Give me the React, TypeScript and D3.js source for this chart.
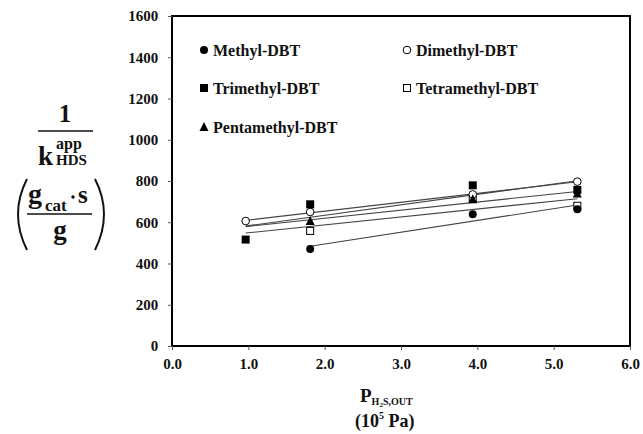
import React, { useEffect, useRef } from 'react';
import * as d3 from 'd3';

// H2S partial pressure at the outlet (10^5 Pa)
const pressures = [0.965, 1.81, 3.94, 5.31];

const seriesNames = ['Methyl-DBT', 'Dimethyl-DBT', 'Trimethyl-DBT', 'Tetramethyl-DBT', 'Pentamethyl-DBT'];
const seriesSymbols = ['circle', 'circleOpen', 'square', 'squareOpen', 'triangle'];

// 1/k values (gcat·s/g); null = not measured at that pressure
const methylValues = [null, 470, 639, 663];
const dimethylValues = [606, 650, 735, 797];
const trimethylValues = [516, 687, 779, 757];
const tetramethylValues = [null, 558, 718, 680];
const pentamethylValues = [null, 606, 711, 740];

// where each trend line starts on the x axis
const fitStart = [1.81, 0.965, 0.965, 0.965, 0.965];

const xTicks = [0, 1, 2, 3, 4, 5, 6];
const yTicks = [0, 200, 400, 600, 800, 1000, 1200, 1400, 1600];

const allValues = [methylValues, dimethylValues, trimethylValues, tetramethylValues, pentamethylValues];

const FONT = 'Liberation Serif, Times New Roman, serif';

const App = () => {
  const svgRef = useRef(null);

  useEffect(() => {
    const svg = d3.select(svgRef.current);
    svg.selectAll('*').remove();

    const x = d3.scaleLinear().domain([0, 6]).range([172, 630]);
    const y = d3.scaleLinear().domain([0, 1600]).range([346, 16]);

    const g = svg.append('g').style('font-family', FONT).style('font-weight', 'bold');

    // frame
    g.append('rect')
      .attr('x', x(0)).attr('y', y(1600))
      .attr('width', x(6) - x(0)).attr('height', y(0) - y(1600))
      .attr('fill', 'none').attr('stroke', '#000').attr('stroke-width', 2);

    // axes
    const xAxis = d3.axisBottom(x).tickValues(xTicks).tickSize(4).tickFormat(d => d3.format('.1f')(d));
    const yAxis = d3.axisLeft(y).tickValues(yTicks).tickSize(4).tickFormat(d3.format('d'));

    const gx = g.append('g').attr('transform', `translate(0,${y(0)})`).call(xAxis);
    gx.attr('font-family', null).attr('font-size', null);
    gx.select('.domain').remove();
    gx.selectAll('text').style('font-size', '15px').attr('dy', '1.05em').attr('fill', '#111');
    gx.selectAll('line').attr('stroke', '#555');

    const gy = g.append('g').attr('transform', `translate(${x(0)},0)`).call(yAxis);
    gy.attr('font-family', null).attr('font-size', null);
    gy.select('.domain').remove();
    gy.selectAll('text').style('font-size', '15px').attr('dx', '-0.45em').attr('fill', '#111');
    gy.selectAll('line').attr('stroke', '#555');

    // trend lines
    allValues.forEach((vals, i) => {
      const pts = pressures.map((p, j) => [p, vals[j]]).filter(d => d[1] != null);
      const mx = d3.mean(pts, d => d[0]);
      const my = d3.mean(pts, d => d[1]);
      const sxy = d3.sum(pts, d => (d[0] - mx) * (d[1] - my));
      const sxx = d3.sum(pts, d => (d[0] - mx) ** 2);
      const slope = sxy / sxx;
      const f = xv => my + slope * (xv - mx);
      const x0 = fitStart[i];
      const x1 = d3.max(pts, d => d[0]);
      g.append('line')
        .attr('x1', x(x0)).attr('y1', y(f(x0)))
        .attr('x2', x(x1)).attr('y2', y(f(x1)))
        .attr('stroke', '#444').attr('stroke-width', 1.1);
    });

    const drawSymbol = (sel, type, cx, cy) => {
      if (type === 'circle') {
        sel.append('circle').attr('cx', cx).attr('cy', cy).attr('r', 4).attr('fill', '#000');
      } else if (type === 'circleOpen') {
        sel.append('circle').attr('cx', cx).attr('cy', cy).attr('r', 3.8).attr('fill', '#fff').attr('stroke', '#000').attr('stroke-width', 1);
      } else if (type === 'square') {
        sel.append('rect').attr('x', cx - 4).attr('y', cy - 4).attr('width', 8).attr('height', 8).attr('fill', '#000');
      } else if (type === 'squareOpen') {
        sel.append('rect').attr('x', cx - 3.5).attr('y', cy - 3.5).attr('width', 7).attr('height', 7).attr('fill', '#fff').attr('stroke', '#000').attr('stroke-width', 1);
      } else {
        sel.append('path').attr('d', `M${cx},${cy - 5}L${cx + 4.5},${cy + 4}L${cx - 4.5},${cy + 4}Z`).attr('fill', '#000');
      }
    };

    // points: draw in an order so filled markers sit on top like the original
    const order = [3, 1, 0, 2, 4];
    order.forEach(i => {
      pressures.forEach((p, j) => {
        const v = allValues[i][j];
        if (v == null) return;
        drawSymbol(g, seriesSymbols[i], x(p), y(v));
      });
    });

    // legend
    const legendPos = [[204, 50], [407, 50], [204, 88], [407, 88], [204, 127]];
    seriesNames.forEach((name, i) => {
      const [lx, ly] = legendPos[i];
      drawSymbol(g, seriesSymbols[i], lx, ly);
      g.append('text').attr('x', lx + 9).attr('y', ly + 5.5)
        .style('font-size', '16px').attr('fill', '#111').text(name);
    });

    // y axis title
    const yt = g.append('g').attr('fill', '#111');
    const txt = (sel, tx, ty, size, s, anchor = 'start') =>
      sel.append('text').attr('x', tx).attr('y', ty).attr('text-anchor', anchor).style('font-size', `${size}px`).text(s);

    txt(yt, 65, 122, 25, '1', 'middle');
    yt.append('line').attr('x1', 38).attr('x2', 93).attr('y1', 131).attr('y2', 131).attr('stroke', '#111').attr('stroke-width', 1.5);
    txt(yt, 38, 165, 27, 'k');
    txt(yt, 56, 149, 16, 'app');
    txt(yt, 56, 165, 15, 'HDS');

    yt.append('path').attr('d', 'M27,179 Q9,214 27,250').attr('fill', 'none').attr('stroke', '#111').attr('stroke-width', 2);
    yt.append('path').attr('d', 'M95,179 Q113,214 95,250').attr('fill', 'none').attr('stroke', '#111').attr('stroke-width', 2);

    txt(yt, 28, 203, 28, 'g');
    txt(yt, 45, 211, 17, 'cat');
    yt.append('circle').attr('cx', 73).attr('cy', 197).attr('r', 1.7).attr('fill', '#111');
    txt(yt, 78, 203, 25, 's');
    yt.append('line').attr('x1', 27).attr('x2', 92).attr('y1', 214).attr('y2', 214).attr('stroke', '#111').attr('stroke-width', 1.5);
    txt(yt, 60, 239, 27, 'g', 'middle');

    // x axis title
    const xt = g.append('g').attr('fill', '#111');
    const p = xt.append('text').attr('x', 360).attr('y', 402).style('font-size', '19px');
    p.append('tspan').text('P');
    p.append('tspan').style('font-size', '10px').attr('dy', 3).text('H');
    p.append('tspan').style('font-size', '7px').attr('dy', 2).text('2');
    p.append('tspan').style('font-size', '10px').attr('dy', -2).text('S,OUT');

    const u = xt.append('text').attr('x', 355).attr('y', 427).style('font-size', '18px');
    u.append('tspan').text('(10');
    u.append('tspan').style('font-size', '10px').attr('dy', -8).text('5');
    u.append('tspan').attr('dy', 8).text(' Pa)');
  }, []);

  return (
    <div style={{ position: 'absolute', left: 0, top: 0, width: 643, height: 434, background: '#fff' }}>
      <svg ref={svgRef} width={643} height={434}></svg>
    </div>
  );
};

export default App;
